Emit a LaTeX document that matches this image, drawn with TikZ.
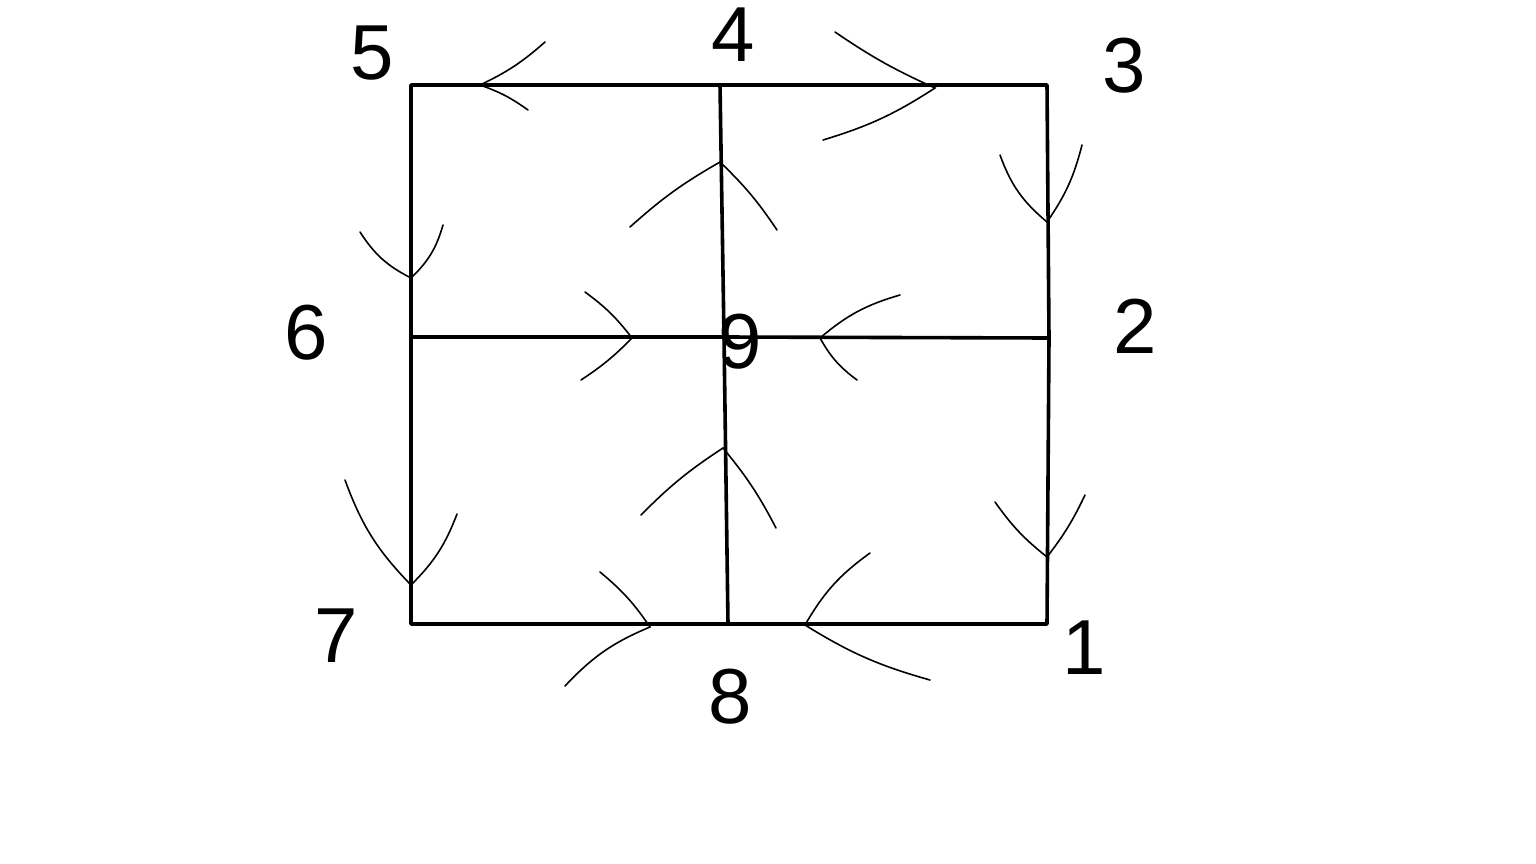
\documentclass[tikz,border=0pt]{standalone}
\usepackage{fontspec}
\setmainfont{Liberation Sans}
\begin{document}
\begin{tikzpicture}[x=1pt,y=-1pt,
  edge/.style={line width=3.6pt,line cap=round,line join=round},
  chev/.style={line width=1.6pt,line cap=round},
  lbl/.style={font=\fontsize{78}{78}\selectfont,inner sep=0pt}]
\useasboundingbox[fill=white] (0,0) rectangle (1536,864);
% corner / midpoint coordinates
\coordinate (p5) at (411,85);
\coordinate (p4) at (720,85);
\coordinate (p3) at (1047,85);
\coordinate (p2) at (1049,338);
\coordinate (p1) at (1047,624);
\coordinate (p8) at (728,624);
\coordinate (p7) at (411,624);
\coordinate (p6) at (411,337);
\coordinate (p9) at (724,337);
% frame and cross
\draw[edge] (p5) -- (p4) -- (p3) -- (p2) -- (p1) -- (p8) -- (p7) -- (p6) -- cycle;
\draw[edge] (p4) -- (p9) -- (p8);
\draw[edge] (p6) -- (p9) -- (p2);
% labels
\node[lbl] (n5) at (372,53) {5};
\node[lbl] (n4) at (733,35) {4};
\node[lbl] (n3) at (1124,66) {3};
\node[lbl] (n2) at (1135,326) {2};
\node[lbl] (n1) at (1084,648) {1};
\node[lbl] (n8) at (730,697) {8};
\node[lbl] (n7) at (336,636) {7};
\node[lbl] (n6) at (306,333) {6};
\node[lbl] (n9) at (740,342) {9};
% chevrons (hand-drawn arrowheads)
\draw[chev] (545,42) to[bend left=8] (480,85) to[bend left=8] (528,110);
\draw[chev] (835,32) to[bend right=5] (935,88) to[bend left=8] (823,140);
\draw[chev] (1000,155) to[bend right=15] (1047,222) to[bend right=10] (1082,145);
\draw[chev] (995,502) to[bend right=8] (1047,557) to[bend right=6] (1085,495);
\draw[chev] (870,553) to[bend right=12] (805,625) to[bend right=8] (930,680);
\draw[chev] (600,572) to[bend left=8] (650,627) to[bend right=12] (565,686);
\draw[chev] (345,480) to[bend right=12] (411,585) to[bend right=12] (457,514);
\draw[chev] (360,232) to[bend right=15] (411,278) to[bend right=15] (443,225);
\draw[chev] (630,227) to[bend left=6] (720,162) to[bend left=6] (777,230);
\draw[chev] (641,515) to[bend left=6] (723,448) to[bend left=6] (776,528);
\draw[chev] (585,292) to[bend left=8] (632,338) to[bend left=6] (581,380);
\draw[chev] (900,295) to[bend right=12] (820,338) to[bend right=12] (857,380);
\end{tikzpicture}
\end{document}
